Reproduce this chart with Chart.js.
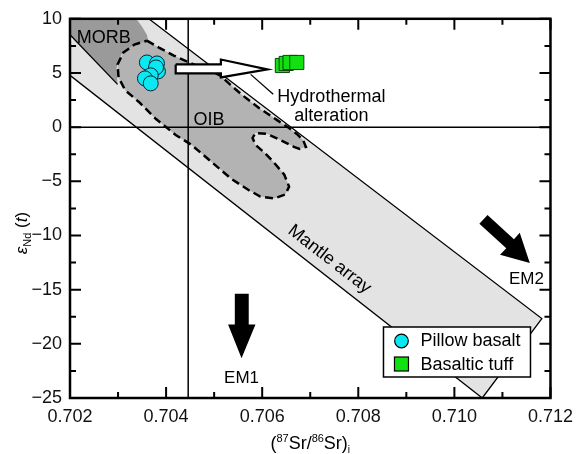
<!DOCTYPE html>
<html>
<head>
<meta charset="utf-8">
<script src="https://cdn.jsdelivr.net/npm/chart.js@4.4.0/dist/chart.umd.min.js"></script>
<style>
html, body { margin: 0; padding: 0; background: #fff; }
#wrap { width: 581px; height: 454px; position: relative; }
</style>
</head>
<body>
<div id="wrap"><canvas id="srNdChart"></canvas></div>
<script>
// ===============================
// DATA
// ===============================

// samples
const pillowX = [0.70360, 0.70381, 0.70383, 0.70379, 0.70368, 0.70356, 0.70368];
const pillowY = [5.97, 5.88, 5.14, 5.51, 4.78, 4.50, 4.04];
const tuffX = [0.70642, 0.70650, 0.70658, 0.70672];
const tuffY = [5.69, 5.88, 5.97, 5.97];

// mantle array band
const mantleX = [0.70225, 0.70364, 0.71182, 0.71058, 0.70200, 0.70200, 0.70225];
const mantleY = [10, 10, -17.67, -25, 4.78, 7.53, 10];
const mantleEdgeX = [0.70364, 0.71182, 0.71058, 0.70200];
const mantleEdgeY = [10, -17.67, -25, 4.78];

// MORB field
const morbX = [0.70200, 0.70338, 0.70350, 0.70360, 0.70364, 0.70334, 0.70307, 0.70297, 0.70299, 0.70206, 0.70200, 0.70200];
const morbY = [10, 10, 9.27, 8.53, 7.80, 7.43, 6.70, 5.51, 3.95, 8.26, 8.53, 10];
const morbEdgeX = [0.70200, 0.70299];
const morbEdgeY = [8.53, 3.95];

// OIB field (dashed)
const oibX = [0.70360, 0.70385, 0.70416, 0.70457, 0.70492, 0.70512, 0.70533, 0.70559, 0.70594, 0.70631,
  0.70656, 0.70672, 0.70685, 0.70691, 0.70678, 0.70666, 0.70637, 0.70611, 0.70586, 0.70580,
  0.70586, 0.70605, 0.70625, 0.70646, 0.70656, 0.70648, 0.70625, 0.70596, 0.70570, 0.70535,
  0.70494, 0.70453, 0.70420, 0.70379, 0.70344, 0.70315, 0.70301, 0.70299, 0.70311, 0.70334, 0.70360];
const oibY = [7.98, 7.34, 6.61, 5.79, 5.24, 4.78, 3.95, 2.94, 1.75, 0.65,
  -0.08, -0.63, -1.18, -1.82, -2.00, -1.82, -1.18, -0.63, -0.54, -1.00,
  -1.64, -2.37, -3.29, -4.39, -5.49, -6.22, -6.58, -6.40, -5.76, -4.75,
  -3.19, -1.64, -0.72, 0.75, 2.30, 3.40, 4.59, 5.79, 6.88, 7.62, 7.98];

// reference lines
const refSr = 0.70446;
const refNd = 0;

// arrows
const hydroArrowX = [0.70420, 0.70514, 0.70514, 0.70611, 0.70514, 0.70514, 0.70420, 0.70420];
const hydroArrowY = [5.79, 5.79, 6.24, 5.33, 4.59, 4.96, 4.96, 5.79];
const leaderX = [0.70576, 0.70623];
const leaderY = [4.87, 3.04];
const em1X = [0.70543, 0.70572, 0.70572, 0.70586, 0.70557, 0.70529, 0.70543, 0.70543];
const em1Y = [-15.38, -15.38, -18.22, -18.22, -21.34, -18.22, -18.22, -15.38];
const em2X = [0.71069, 0.71124, 0.71136, 0.71157, 0.71095, 0.71108, 0.71052, 0.71069];
const em2Y = [-8.10, -10.34, -9.74, -12.54, -11.77, -11.17, -8.92, -8.10];

// axes
const xMajor = [0.702, 0.704, 0.706, 0.708, 0.710, 0.712];
const xMinor = [0.703, 0.705, 0.707, 0.709, 0.711];
const yMajor = [-25, -20, -15, -10, -5, 0, 5, 10];
const yMinor = [-22.5, -17.5, -12.5, -7.5, -2.5, 2.5, 7.5];

// ===============================
// HELPERS
// ===============================

const FONT = '"Liberation Sans", Arial, Helvetica, sans-serif';
const LIGHT = '#e3e3e3';
const MID = '#b3b3b3';
const DARK = '#9a9a9a';
const CYAN = '#0ae8f2';
const GREEN = '#11e011';

function pts(xs, ys) {
  return xs.map((v, i) => ({ x: v, y: ys[i] }));
}

function shape(xs, ys, fillColor, order, extra) {
  return Object.assign({
    data: pts(xs, ys),
    showLine: true,
    fill: 'shape',
    backgroundColor: fillColor,
    borderColor: 'rgba(0,0,0,0)',
    borderWidth: 0,
    pointRadius: 0,
    tension: 0,
    order: order
  }, extra || {});
}

function line(xs, ys, order, extra) {
  return Object.assign({
    data: pts(xs, ys),
    showLine: true,
    fill: false,
    borderColor: '#000',
    borderWidth: 1.3,
    pointRadius: 0,
    tension: 0,
    order: order
  }, extra || {});
}

// ===============================
// TEXT / FRAME PLUGIN
// ===============================

function drawPieces(ctx, pieces, x0, y0) {
  let x = x0;
  pieces.forEach(p => {
    ctx.font = (p.it ? 'italic ' : '') + p.s + 'px ' + FONT;
    ctx.fillText(p.t, x, y0 + (p.dy || 0));
    x += ctx.measureText(p.t).width;
  });
}

function piecesWidth(ctx, pieces) {
  let w = 0;
  pieces.forEach(p => {
    ctx.font = (p.it ? 'italic ' : '') + p.s + 'px ' + FONT;
    w += ctx.measureText(p.t).width;
  });
  return w;
}

const decorations = {
  id: 'decorations',
  afterDatasetsDraw(chart) {
    const { ctx, chartArea: a, scales: { x, y } } = chart;
    ctx.save();
    ctx.fillStyle = '#000';
    ctx.textBaseline = 'alphabetic';

    // field labels
    ctx.font = '18px ' + FONT;
    ctx.textAlign = 'left';
    ctx.fillText('MORB', x.getPixelForValue(0.70214), y.getPixelForValue(7.8));
    ctx.fillText('OIB', x.getPixelForValue(0.70457), y.getPixelForValue(0.2));
    ctx.textAlign = 'center';
    ctx.fillText('Hydrothermal', x.getPixelForValue(0.70744), y.getPixelForValue(2.3));
    ctx.fillText('alteration', x.getPixelForValue(0.70744), y.getPixelForValue(0.56));
    ctx.font = '17px ' + FONT;
    ctx.fillText('EM1', x.getPixelForValue(0.70557), y.getPixelForValue(-23.63));
    ctx.fillText('EM2', x.getPixelForValue(0.71150), y.getPixelForValue(-14.46));

    // rotated mantle array label
    ctx.save();
    ctx.translate(x.getPixelForValue(0.70740), y.getPixelForValue(-12.2));
    ctx.rotate(37.8 * Math.PI / 180);
    ctx.font = '18px ' + FONT;
    ctx.textBaseline = 'middle';
    ctx.fillText('Mantle array', 0, 0);
    ctx.restore();

    // legend
    const lx = a.right - 167, ly = a.bottom - 71;
    ctx.fillStyle = '#fff';
    ctx.fillRect(lx, ly, 147, 50);
    ctx.strokeStyle = '#000';
    ctx.lineWidth = 1.5;
    ctx.strokeRect(lx, ly, 147, 50);
    ctx.beginPath();
    ctx.arc(lx + 18, ly + 14, 6.8, 0, Math.PI * 2);
    ctx.fillStyle = CYAN;
    ctx.fill();
    ctx.lineWidth = 1.2;
    ctx.stroke();
    ctx.fillStyle = GREEN;
    ctx.fillRect(lx + 11, ly + 30, 14, 14);
    ctx.strokeRect(lx + 11, ly + 30, 14, 14);
    ctx.fillStyle = '#000';
    ctx.font = '18px ' + FONT;
    ctx.textAlign = 'left';
    ctx.fillText('Pillow basalt', lx + 37, ly + 19);
    ctx.fillText('Basaltic tuff', lx + 37, ly + 43);

    // frame + inward ticks on all four sides
    ctx.strokeStyle = '#000';
    ctx.lineWidth = 2;
    ctx.beginPath();
    const tickX = (v, len) => {
      const px = x.getPixelForValue(v);
      ctx.moveTo(px, a.bottom); ctx.lineTo(px, a.bottom - len);
      ctx.moveTo(px, a.top); ctx.lineTo(px, a.top + len);
    };
    const tickY = (v, len) => {
      const py = y.getPixelForValue(v);
      ctx.moveTo(a.left, py); ctx.lineTo(a.left + len, py);
      ctx.moveTo(a.right, py); ctx.lineTo(a.right - len, py);
    };
    xMajor.forEach(v => tickX(v, 11));
    xMinor.forEach(v => tickX(v, 6));
    yMajor.forEach(v => tickY(v, 11));
    yMinor.forEach(v => tickY(v, 6));
    ctx.stroke();
    ctx.lineWidth = 2.5;
    ctx.strokeRect(a.left, a.top, a.right - a.left, a.bottom - a.top);

    // x axis title: (87Sr/86Sr)i
    const xt = [
      { t: '(', s: 18 }, { t: '87', s: 11, dy: -7 }, { t: 'Sr/', s: 18 },
      { t: '86', s: 11, dy: -7 }, { t: 'Sr)', s: 18 }, { t: 'i', s: 10, dy: 4 }
    ];
    ctx.textAlign = 'left';
    ctx.fillStyle = '#000';
    const xw = piecesWidth(ctx, xt);
    drawPieces(ctx, xt, (a.left + a.right) / 2 - xw / 2, a.bottom + 51);

    // y axis title: eNd (t)
    const yt = [
      { t: 'ε', s: 17, it: true }, { t: 'Nd', s: 11, dy: 4 }, { t: ' (', s: 17 },
      { t: 't', s: 17, it: true }, { t: ')', s: 17 }
    ];
    const yw = piecesWidth(ctx, yt);
    ctx.save();
    ctx.translate(27, 233);
    ctx.rotate(-Math.PI / 2);
    drawPieces(ctx, yt, -yw / 2, 0);
    ctx.restore();

    ctx.restore();
  }
};

// ===============================
// CHART
// ===============================

Chart.defaults.font.family = FONT;

const ctx = document.getElementById('srNdChart');

new Chart(ctx, {
  type: 'scatter',
  data: {
    datasets: [
      shape(mantleX, mantleY, LIGHT, 20),
      shape(morbX, morbY, DARK, 19),
      line(morbEdgeX, morbEdgeY, 18),
      shape(oibX, oibY, MID, 17, { borderColor: '#000', borderWidth: 2.5, borderDash: [8, 4.5] }),
      line(mantleEdgeX, mantleEdgeY, 16),
      line([refSr, refSr], [-25, 10], 15, { borderWidth: 1.5 }),
      line([0.702, 0.712], [refNd, refNd], 15, { borderWidth: 1.5 }),
      line(leaderX, leaderY, 14),
      shape(hydroArrowX, hydroArrowY, '#fff', 13, { borderColor: '#000', borderWidth: 2.2 }),
      shape(em1X, em1Y, '#000', 12),
      shape(em2X, em2Y, '#000', 12),
      {
        label: 'Basaltic tuff',
        data: pts(tuffX, tuffY),
        pointStyle: 'rect',
        pointRadius: 10,
        backgroundColor: GREEN,
        borderColor: '#114411',
        borderWidth: 1,
        order: 2
      },
      {
        label: 'Pillow basalt',
        data: pts(pillowX, pillowY),
        pointStyle: 'circle',
        pointRadius: 7.5,
        backgroundColor: CYAN,
        borderColor: '#123',
        borderWidth: 1,
        order: 1
      }
    ]
  },
  options: {
    responsive: true,
    maintainAspectRatio: false,
    animation: false,
    layout: { padding: { top: 16, right: 24, left: 0, bottom: 0 } },
    plugins: {
      legend: { display: false },
      tooltip: { enabled: false }
    },
    scales: {
      x: {
        type: 'linear',
        min: 0.702,
        max: 0.712,
        afterBuildTicks: s => { s.ticks = xMajor.map(v => ({ value: v })); },
        afterFit: s => { s.height = 56; },
        grid: { display: false, drawTicks: false },
        border: { display: false },
        ticks: {
          callback: v => v.toFixed(3),
          font: { size: 18 },
          color: '#111',
          padding: 8,
          maxRotation: 0,
          autoSkip: false
        }
      },
      y: {
        type: 'linear',
        min: -25,
        max: 10,
        afterBuildTicks: s => { s.ticks = yMajor.map(v => ({ value: v })); },
        afterFit: s => { s.width = 70; },
        grid: { display: false, drawTicks: false },
        border: { display: false },
        ticks: {
          callback: v => (v < 0 ? '\u2212' + Math.abs(v) : String(v)),
          font: { size: 18 },
          color: '#111',
          padding: 8,
          autoSkip: false
        }
      }
    }
  },
  plugins: [decorations]
});
</script>
</body>
</html>
